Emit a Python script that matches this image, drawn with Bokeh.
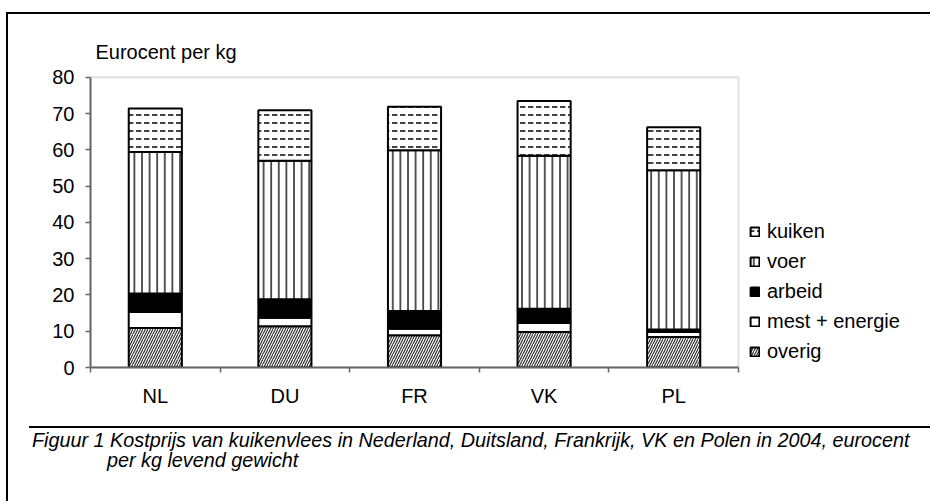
from bokeh.plotting import figure
from bokeh.models import (ColumnDataSource, FixedTicker, Range1d, Legend, LegendItem,
                          Title, Div, BoxAnnotation)
from bokeh.layouts import column
from bokeh.transform import stack
from bokeh.embed import file_html
from bokeh.resources import INLINE

# ---- data ----
countries = ["NL", "DU", "FR", "VK", "PL"]
overig = [10.9, 11.4, 8.9, 9.8, 8.4]
mest_energie = [4.4, 2.3, 1.8, 2.5, 1.4]
arbeid = [5.1, 5.1, 4.9, 3.9, 0.7]
voer = [39.0, 38.2, 44.3, 42.2, 43.9]
kuiken = [12.0, 13.9, 12.0, 15.1, 11.8]

series_keys = ["overig", "mest", "arbeid", "voer", "kuiken"]
series_labels = ["overig", "mest + energie", "arbeid", "voer", "kuiken"]
y_ticks = [0, 10, 20, 30, 40, 50, 60, 70, 80]
y_max = 80
y_label = "Eurocent per kg"
caption_1 = "Figuur 1 Kostprijs van kuikenvlees in Nederland, Duitsland, Frankrijk, VK en Polen in 2004, eurocent"
caption_2 = "per kg levend gewicht"

FONT = "Liberation Sans"
FS = "20px"

x_pos = [i + 0.5 for i in range(len(countries))]
src = ColumnDataSource(dict(x=x_pos, country=countries, overig=overig, mest=mest_energie,
                            arbeid=arbeid, voer=voer, kuiken=kuiken))

# layout: frame runs to the right edge so the legend (outside the plot area) is not clipped
W, PH = 920, 405
BL, BT, BB = 82, 61, 52
FRAME_W = W - BL
PLOT_W = 648
x_end = len(countries) * FRAME_W / PLOT_W

p = figure(width=W, height=PH, output_backend="svg", toolbar_location=None,
           sizing_mode="fixed",
           x_range=Range1d(0, x_end), y_range=Range1d(0, y_max + 0.5),
           min_border_left=BL, min_border_right=0, min_border_top=BT, min_border_bottom=BB)
p.title = Title(text=y_label, align="left", offset=5, standoff=25, text_font=FONT,
                text_font_size=FS, text_font_style="normal", text_color="black")
p.grid.visible = False
p.background_fill_color = "white"
p.border_fill_color = "white"
p.outline_line_color = None

# plot-area border (grey, Excel style)
p.add_layout(BoxAnnotation(left=0, right=len(countries), bottom=0, top=y_max,
                           fill_alpha=0, line_color="#9a9a9a", line_width=2, level="underlay"))

styles = {
    "overig": dict(fill_color="white", hatch_pattern="/", hatch_scale=5, hatch_weight=1.2),
    "mest": dict(fill_color="white", hatch_pattern=" "),
    "arbeid": dict(fill_color="black", hatch_pattern=" "),
    "voer": dict(fill_color="white", hatch_pattern="|", hatch_scale=7.6, hatch_weight=1.6),
    "kuiken": dict(fill_color="white", hatch_pattern='"', hatch_scale=8, hatch_weight=1.8),
}

renderers = {}
for i, k in enumerate(series_keys):
    r = p.vbar(x="x", width=0.41, bottom=stack(*series_keys[:i]), top=stack(*series_keys[:i + 1]),
               source=src, line_color="black", line_width=2, hatch_color="#303030", **styles[k])
    renderers[k] = r

# axes
p.yaxis.bounds = (0, y_max)
p.yaxis.ticker = FixedTicker(ticks=y_ticks)
p.yaxis.major_tick_out = 5
p.yaxis.major_tick_in = 0
p.yaxis.minor_tick_out = 0
p.yaxis.minor_tick_in = 0
p.yaxis.major_label_standoff = 11
p.yaxis.axis_line_color = "#666666"
p.yaxis.axis_line_width = 2
p.yaxis.major_tick_line_color = "#666666"
p.yaxis.major_tick_line_width = 1.5
p.yaxis.major_label_text_font = FONT
p.yaxis.major_label_text_font_size = FS
p.yaxis.major_label_text_color = "black"

p.xaxis.bounds = (0, len(countries))
p.xaxis.ticker = FixedTicker(ticks=x_pos, minor_ticks=list(range(len(countries) + 1)))
p.xaxis.major_label_overrides = {x: c for x, c in zip(x_pos, countries)}
p.xaxis.major_tick_out = 0
p.xaxis.major_tick_in = 0
p.xaxis.minor_tick_out = 5
p.xaxis.minor_tick_in = 0
p.xaxis.minor_tick_line_color = "#666666"
p.xaxis.minor_tick_line_width = 1.5
p.xaxis.major_label_standoff = 12
p.xaxis.axis_line_color = "#666666"
p.xaxis.axis_line_width = 2
p.xaxis.major_label_text_font = FONT
p.xaxis.major_label_text_font_size = FS
p.xaxis.major_label_text_color = "black"

# legend to the right of the plot area
order = ["kuiken", "voer", "arbeid", "mest", "overig"]
items = [LegendItem(label=series_labels[series_keys.index(k)], renderers=[renderers[k]]) for k in order]
legend = Legend(items=items, location=(PLOT_W + 11, 4), orientation="vertical", padding=0, margin=0,
                spacing=7, glyph_width=11, glyph_height=11, label_standoff=7, label_height=22,
                label_text_font=FONT, label_text_font_size=FS, label_text_color="black",
                border_line_color=None, background_fill_alpha=0)
p.add_layout(legend)

# caption below a rule
caption_html = (
    '<div style="margin:2px 0 0 16px;width:901px;border-top:2px solid black;'
    'padding:2px 0 0 3px;font-family:\'Liberation Sans\';font-size:19.8px;font-style:italic;'
    'line-height:20px;color:black;white-space:nowrap;">'
    f'<div>{caption_1}</div>'
    f'<div style="padding-left:75px;">{caption_2}</div>'
    '</div>'
)
cap = Div(text=caption_html, width=W, height=80, sizing_mode="fixed")

root = column(p, cap, sizing_mode="fixed", margin=(12, 0, 0, 6),
              styles={"border-top": "2px solid black", "border-left": "2px solid black"})

open("out.html", "w").write(file_html(root, INLINE))
